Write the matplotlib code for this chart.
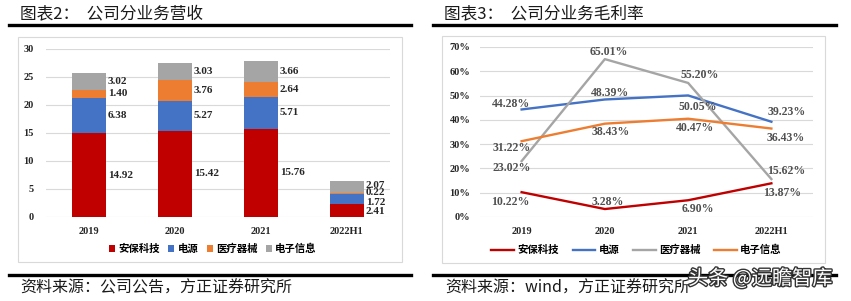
import matplotlib
matplotlib.use("Agg")
import matplotlib.pyplot as plt
import matplotlib.patheffects as pe
from matplotlib.lines import Line2D
from matplotlib.patches import Rectangle
import numpy as np

# ---------------------------------------------------------------------------
# Dados
# ---------------------------------------------------------------------------
years = ["2019", "2020", "2021", "2022H1"]
segments = ["安保科技", "电源", "医疗器械", "电子信息"]

rev_anbao = [14.92, 15.42, 15.76, 2.41]
rev_dianyuan = [6.38, 5.27, 5.71, 1.72]
rev_yiliao = [1.40, 3.76, 2.64, 0.22]
rev_dianzi = [3.02, 3.03, 3.66, 2.07]

gm_anbao = [10.22, 3.28, 6.90, 13.87]
gm_dianyuan = [44.28, 48.39, 50.05, 39.23]
gm_yiliao = [23.02, 65.01, 55.20, 15.62]
gm_dianzi = [31.22, 38.43, 40.47, 36.43]

colors = ["#C00000", "#4472C4", "#A5A5A5", "#ED7D31"]
bar_colors = ["#C00000", "#4472C4", "#ED7D31", "#A5A5A5"]

W, H = 851, 301
fig = plt.figure(figsize=(W / 100, H / 100), dpi=100)
fig.patch.set_facecolor("white")

SERIF = ["Liberation Serif", "DejaVu Serif"]
CJK = ["Noto Sans CJK SC", "DejaVu Sans"]


def fx(px):
    return px / W


def fy(py):
    return 1 - py / H


def add_axes_px(x0, y_top, x1, y_bot):
    return fig.add_axes([fx(x0), fy(y_bot), fx(x1 - x0), (y_bot - y_top) / H])


# ---------------------------------------------------------------------------
# Cabeçalhos, caixas e rodapés
# ---------------------------------------------------------------------------
for x0, x1, title in [(9, 411, "图表2：  公司分业务营收"), (433, 836, "图表3：  公司分业务毛利率")]:
    fig.text(fx(x0 + 11), fy(14), title, fontsize=12, family=CJK,
             color="#1a1a1a", va="center", ha="left")
    fig.add_artist(Line2D([fx(x0), fx(x1)], [fy(25), fy(25)], color="black", lw=2.4))
    fig.add_artist(Line2D([fx(x0), fx(x1)], [fy(275), fy(275)], color="black", lw=2.4))

fig.add_artist(Rectangle((fx(18), fy(262)), fx(402 - 18), (262 - 37) / H,
                         fill=False, edgecolor="#D9D9D9", lw=0.8))
fig.add_artist(Rectangle((fx(442), fy(263)), fx(825 - 442), (263 - 36) / H,
                         fill=False, edgecolor="#D9D9D9", lw=0.8))

fig.text(fx(20), fy(288), "资料来源：公司公告，方正证券研究所", fontsize=11.5,
         family=CJK, color="#1a1a1a", va="center", style="italic")
fig.text(fx(445), fy(288), "资料来源：wind，方正证券研究所", fontsize=11.5,
         family=CJK, color="#1a1a1a", va="center", style="italic")

# ---------------------------------------------------------------------------
# Gráfico 1 – barras empilhadas
# ---------------------------------------------------------------------------
ax1 = add_axes_px(46, 49, 390, 217)
x = np.arange(len(years))
series_rev = [rev_anbao, rev_dianyuan, rev_yiliao, rev_dianzi]
# pequenos ajustes verticais dos rótulos da coluna 2022H1 (apertados)
nudge_h1 = {"安保科技": -0.2, "电源": -0.7, "医疗器械": 0.2, "电子信息": 0.3}
bottom = np.zeros(len(years))
for vals, name, c in zip(series_rev, segments, bar_colors):
    vals = np.array(vals)
    ax1.bar(x, vals, 0.4, bottom=bottom, color=c, label=name, zorder=3)
    for i, v in enumerate(vals):
        yc = bottom[i] + v / 2
        dy = nudge_h1[name] if i == 3 else 0
        ax1.text(x[i] + 0.22, yc + dy, f"{v:.2f}", fontsize=8, family=SERIF,
                 fontweight="bold", color="#262626", va="center", ha="left")
    bottom += vals

ax1.set_xlim(-0.5, 3.5)
ax1.set_ylim(0, 30)
ax1.set_yticks(range(0, 31, 5))
ax1.set_xticks(x)
ax1.set_xticklabels(years)
ax1.yaxis.grid(True, color="#D9D9D9", lw=0.8, zorder=0)
ax1.set_axisbelow(True)
for s in ax1.spines.values():
    s.set_visible(False)
ax1.tick_params(length=0, labelsize=7.5, pad=7)
for lab in ax1.get_xticklabels() + ax1.get_yticklabels():
    lab.set_family(SERIF)
    lab.set_fontweight("bold")
    lab.set_color("#262626")
ax1.tick_params(axis="y", pad=9)
ax1.legend(loc="center", bbox_to_anchor=(0.485, (217 - 249) / 168), ncol=4,
           frameon=False, handlelength=0.6, handleheight=0.6, handletextpad=0.3,
           columnspacing=0.8, prop={"family": CJK, "weight": "bold", "size": 7.5})

# ---------------------------------------------------------------------------
# Gráfico 2 – margens brutas
# ---------------------------------------------------------------------------
ax2 = add_axes_px(480, 47, 813, 217)
series_gm = [gm_anbao, gm_dianyuan, gm_yiliao, gm_dianzi]
# deslocamentos dos rótulos (pontos)
offsets = [
    [(-8, -7), (2, 5), (7, -6), (8, -7)],
    [(-8, 4), (4, 5), (7, -8), (11, 7)],
    [(-7, -5), (3, 5), (8, 6), (11, 6)],
    [(-7, -5), (4, -6), (5, -7), (10, -7)],
]
for vals, name, c, offs in zip(series_gm, segments, colors, offsets):
    ax2.plot(x, vals, color=c, lw=1.7, label=name, zorder=3)
    for i, v in enumerate(vals):
        ax2.annotate(f"{v:.2f}%", (x[i], v), xytext=offs[i], textcoords="offset points",
                     fontsize=8.5, family=SERIF, fontweight="bold", color="#505050",
                     ha="center", va="center", zorder=4)

ax2.set_xlim(-0.5, 3.5)
ax2.set_ylim(0, 70)
ax2.set_yticks(range(0, 71, 10))
ax2.set_yticklabels([f"{t}%" for t in range(0, 71, 10)])
ax2.set_xticks(x)
ax2.set_xticklabels(years)
ax2.yaxis.grid(True, color="#D9D9D9", lw=0.8, zorder=0)
ax2.set_axisbelow(True)
for s in ax2.spines.values():
    s.set_visible(False)
ax2.tick_params(length=0, labelsize=7.5, pad=7)
ax2.tick_params(axis="y", pad=7)
for lab in ax2.get_xticklabels() + ax2.get_yticklabels():
    lab.set_family(SERIF)
    lab.set_fontweight("bold")
    lab.set_color("#262626")
ax2.legend(loc="center", bbox_to_anchor=(0.47, (217 - 250) / 170), ncol=4,
           frameon=False, handlelength=2.2, handletextpad=0.3,
           columnspacing=1.3, prop={"family": CJK, "weight": "bold", "size": 7.5})

# marca d'água
fig.text(fx(688), fy(279), "头条 @远瞻智库", fontsize=14.5, family=CJK, color="white",
         va="center", ha="left",
         path_effects=[pe.withStroke(linewidth=2, foreground="#333333")])

fig.savefig("out.png", dpi=100, facecolor="white")
